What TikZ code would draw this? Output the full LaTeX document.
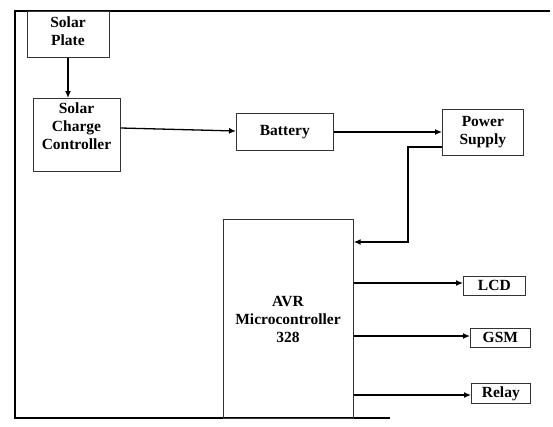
\documentclass[tikz,border=0pt]{standalone}
\usepackage{fontspec}
\setmainfont{Liberation Serif}
\usetikzlibrary{arrows.meta}
\begin{document}
\begin{tikzpicture}[x=1pt,y=-1pt,
  txt/.style={font=\fontsize{15.5}{18}\selectfont\bfseries,align=center},
  blk/.style={draw=black!80,line width=0.7pt,inner sep=0pt,txt},
  con/.style={line width=1.3pt,-{Latex[length=7pt,width=6pt]}}]
\useasboundingbox (0,0) rectangle (553,426);
% frame
\draw[line width=1.4pt] (550,11) -- (15,11) -- (15,418) -- (390,418);
% boxes
\node[blk,minimum width=82pt,minimum height=46pt,anchor=north west] (sp) at (27,11) {};
\node[txt,anchor=north] (spt) at (68,13) {Solar\\Plate};
\node[blk,minimum width=87pt,minimum height=73pt,anchor=north west] (scc) at (33,98) {};
\node[txt,anchor=north] (scct) at (76.5,99) {Solar\\Charge\\Controller};
\node[blk,minimum width=97pt,minimum height=37pt,anchor=north west] (bat) at (236,113) {Battery};
\node[blk,minimum width=81pt,minimum height=46pt,anchor=north west] (ps) at (442,109) {Power\\Supply};
\node[blk,minimum width=130pt,minimum height=199pt,anchor=north west] (avr) at (223,219) {};
\node[txt] (avrt) at (288,319) {AVR\\Microcontroller\\328};
\node[blk,minimum width=62pt,minimum height=19pt,anchor=north west] (lcd) at (463,276) {LCD};
\node[blk,minimum width=60pt,minimum height=19pt,anchor=north west] (gsm) at (470,328) {GSM};
\node[blk,minimum width=59pt,minimum height=20pt,anchor=north west] (rel) at (471,383) {Relay};
% connectors
\draw[con] (sp.south -| 68,0) -- (scc.north -| 68,0);
\draw[con] (scc.east |- 0,128) -- (bat.west |- 0,131);
\draw[con] (bat.east |- 0,132) -- (ps.west |- 0,132);
\draw[con] (ps.west |- 0,147) -- (408,147) -- (408,242) -- (avr.east |- 0,242);
\draw[con] (avr.east |- 0,283) -- (lcd.west |- 0,283);
\draw[con] (avr.east |- 0,336) -- (gsm.west |- 0,336);
\draw[con] (avr.east |- 0,395) -- (rel.west |- 0,395);
\end{tikzpicture}
\end{document}
